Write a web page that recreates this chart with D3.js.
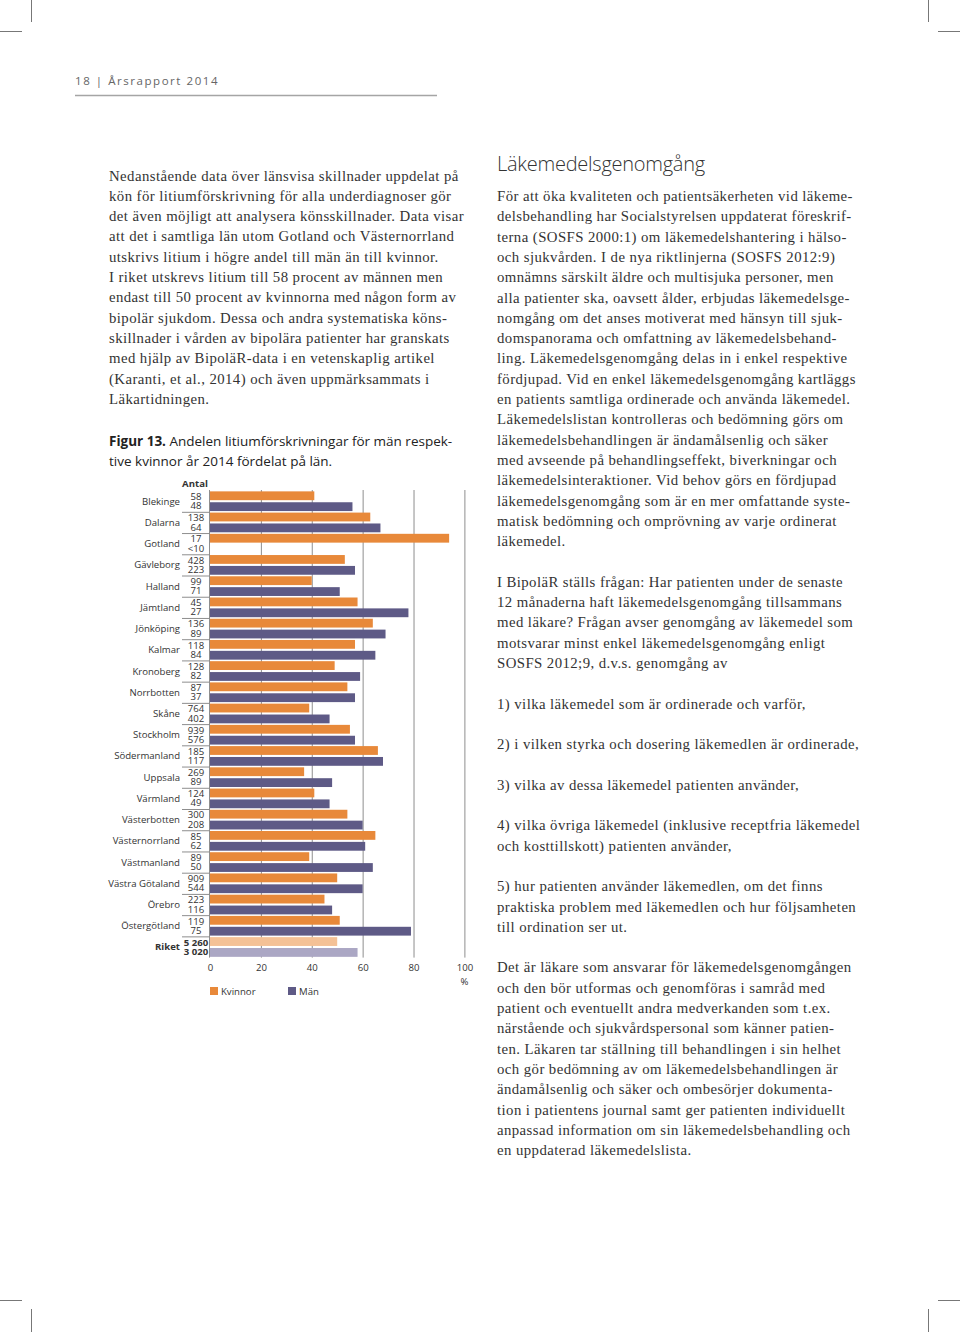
<!DOCTYPE html>
<html><head><meta charset="utf-8">
<script src="https://cdn.jsdelivr.net/npm/d3@7"></script>
<style>
html,body{margin:0;padding:0;background:#fff;}
svg{display:block;}
</style></head>
<body>
<script>
// ---------- DATA ----------
const counties = ["Blekinge","Dalarna","Gotland","Gävleborg","Halland","Jämtland","Jönköping","Kalmar","Kronoberg","Norrbotten","Skåne","Stockholm","Södermanland","Uppsala","Värmland","Västerbotten","Västernorrland","Västmanland","Västra Götaland","Örebro","Östergötland","Riket"];
const kvinnorPct = [41,63,94,53,40,58,64,57,49,54,39,55,66,37,41,54,65,39,50,45,51,50];
const manPct     = [56,67,null,57,51,78,69,65,59,57,47,57,68,48,47,60,61,64,60,48,79,58];
const kvinnorN = ["58","138","17","428","99","45","136","118","128","87","764","939","185","269","124","300","85","89","909","223","119","5 260"];
const manN     = ["48","64","<10","223","71","27","89","84","82","37","402","576","117","89","49","208","62","50","544","116","75","3 020"];
const xTicks = [0,20,40,60,80,100];
const seriesNames = ["Kvinnor","Män"];

const headerText = "18 | Årsrapport 2014";
const leftLines = [
"Nedanstående data över länsvisa skillnader uppdelat på",
"kön för litiumförskrivning för alla underdiagnoser gör",
"det även möjligt att analysera könsskillnader. Data visar",
"att det i samtliga län utom Gotland och Västernorrland",
"utskrivs litium i högre andel till män än till kvinnor.",
"I riket utskrevs litium till 58 procent av männen men",
"endast till 50 procent av kvinnorna med någon form av",
"bipolär sjukdom. Dessa och andra systematiska köns-",
"skillnader i vården av bipolära patienter har granskats",
"med hjälp av BipoläR-data i en vetenskaplig artikel",
"(Karanti, et al., 2014) och även uppmärksammats i",
"Läkartidningen."
];
const captionBold = "Figur 13.";
const captionLines = [" Andelen litiumförskrivningar för män respek-", "tive kvinnor år 2014 fördelat på län."];
const rightHeading = "Läkemedelsgenomgång";
const rightLines = [
"För att öka kvaliteten och patientsäkerheten vid läkeme-",
"delsbehandling har Socialstyrelsen uppdaterat föreskrif-",
"terna (SOSFS 2000:1) om läkemedelshantering i hälso-",
"och sjukvården. I de nya riktlinjerna (SOSFS 2012:9)",
"omnämns särskilt äldre och multisjuka personer, men",
"alla patienter ska, oavsett ålder, erbjudas läkemedelsge-",
"nomgång om det anses motiverat med hänsyn till sjuk-",
"domspanorama och omfattning av läkemedelsbehand-",
"ling. Läkemedelsgenomgång delas in i enkel respektive",
"fördjupad. Vid en enkel läkemedelsgenomgång kartläggs",
"en patients samtliga ordinerade och använda läkemedel.",
"Läkemedelslistan kontrolleras och bedömning görs om",
"läkemedelsbehandlingen är ändamålsenlig och säker",
"med avseende på behandlingseffekt, biverkningar och",
"läkemedelsinteraktioner. Vid behov görs en fördjupad",
"läkemedelsgenomgång som är en mer omfattande syste-",
"matisk bedömning och omprövning av varje ordinerat",
"läkemedel.",
"",
"I BipoläR ställs frågan: Har patienten under de senaste",
"12 månaderna haft läkemedelsgenomgång tillsammans",
"med läkare? Frågan avser genomgång av läkemedel som",
"motsvarar minst enkel läkemedelsgenomgång enligt",
"SOSFS 2012;9, d.v.s. genomgång av",
"",
"1) vilka läkemedel som är ordinerade och varför,",
"",
"2) i vilken styrka och dosering läkemedlen är ordinerade,",
"",
"3) vilka av dessa läkemedel patienten använder,",
"",
"4) vilka övriga läkemedel (inklusive receptfria läkemedel",
"och kosttillskott) patienten använder,",
"",
"5) hur patienten använder läkemedlen, om det finns",
"praktiska problem med läkemedlen och hur följsamheten",
"till ordination ser ut.",
"",
"Det är läkare som ansvarar för läkemedelsgenomgången",
"och den bör utformas och genomföras i samråd med",
"patient och eventuellt andra medverkanden som t.ex.",
"närstående och sjukvårdspersonal som känner patien-",
"ten. Läkaren tar ställning till behandlingen i sin helhet",
"och gör bedömning av om läkemedelsbehandlingen är",
"ändamålsenlig och säker och ombesörjer dokumenta-",
"tion i patientens journal samt ger patienten individuellt",
"anpassad information om sin läkemedelsbehandling och",
"en uppdaterad läkemedelslista."
];

// ---------- STYLE ----------
const W = 960, H = 1332;
const colors = {kv:"#E8893A", man:"#5E5A86", kvLight:"#F4C196", manLight:"#ABA7C4"};
const sans = "'Open Sans', 'Noto Sans', sans-serif";
const serif = "'Liberation Serif', 'DejaVu Serif', serif";
const textCol = "#333";

const svg = d3.select("body").append("svg").attr("width", W).attr("height", H);

// crop marks
const cm = svg.append("g").attr("stroke","#777").attr("stroke-width",1);
[[31.5,0,31.5,22],[0,31.5,22,31.5],[928.5,0,928.5,22],[938,31.5,960,31.5],
 [0,1300.5,22,1300.5],[31.5,1309,31.5,1332],[938,1300.5,960,1300.5],[928.5,1309,928.5,1332]]
 .forEach(d=>cm.append("line").attr("x1",d[0]).attr("y1",d[1]).attr("x2",d[2]).attr("y2",d[3]));

// header
svg.append("text").attr("x",75).attr("y",85).attr("font-family",sans).attr("font-size",11.5)
  .attr("letter-spacing",1.55).attr("fill","#666").text(headerText);
svg.append("line").attr("x1",75).attr("x2",437).attr("y1",95.5).attr("y2",95.5)
  .attr("stroke","#a5a5a5").attr("stroke-width",1.5);

// left body text
const lh = 20.3;
svg.append("g").selectAll("text").data(leftLines).join("text")
  .attr("x",109).attr("y",(d,i)=>180.5+i*lh)
  .attr("font-family",serif).attr("font-size",14.8).attr("letter-spacing",0.42)
  .attr("fill",textCol).text(d=>d);

// caption
const cap = svg.append("text").attr("x",109).attr("y",446).attr("font-family",sans)
  .attr("font-size",13.5).attr("fill","#222");
cap.append("tspan").attr("font-weight","bold").text(captionBold);
cap.append("tspan").text(captionLines[0]);
svg.append("text").attr("x",109).attr("y",466).attr("font-family",sans)
  .attr("font-size",13.5).attr("fill","#222").text(captionLines[1]);

// right heading and text
svg.append("text").attr("x",497).attr("y",171).attr("font-family",sans).attr("font-weight",300)
  .attr("font-size",20).attr("letter-spacing",-0.25).attr("fill",textCol).text(rightHeading);
svg.append("g").selectAll("text").data(rightLines).join("text")
  .attr("x",497).attr("y",(d,i)=>201+i*lh)
  .attr("font-family",serif).attr("font-size",14.8).attr("letter-spacing",0.42)
  .attr("fill",textCol).text(d=>d);

// ---------- CHART ----------
const x = d3.scaleLinear().domain([0,100]).range([210,464.4]);
const y = d3.scaleBand().domain(counties).range([490.6,957.6]).padding(0);
const sub = d3.scaleBand().domain(seriesNames).range([0,y.bandwidth()]).paddingInner(0.19).paddingOuter(0.07);
const chart = svg.append("g");

// gridlines
chart.append("g").selectAll("line").data(xTicks.filter(t=>t>0)).join("line")
  .attr("x1",d=>x(d)+0.5).attr("x2",d=>x(d)+0.5).attr("y1",490).attr("y2",957.6)
  .attr("stroke","#8e8e8e").attr("stroke-width",1);

// bars
const rows = counties.map((c,i)=>({c, i, kv:kvinnorPct[i], man:manPct[i], nk:kvinnorN[i], nm:manN[i], riket:c==="Riket"}));
const rg = chart.append("g").selectAll("g").data(rows).join("g")
  .attr("transform",d=>`translate(0,${y(d.c)})`);
rg.append("rect").attr("x",x(0)).attr("y",sub("Kvinnor")).attr("height",sub.bandwidth())
  .attr("width",d=>x(d.kv)-x(0)).attr("fill",d=>d.riket?colors.kvLight:colors.kv);
rg.filter(d=>d.man!=null).append("rect").attr("x",x(0)).attr("y",sub("Män")).attr("height",sub.bandwidth())
  .attr("width",d=>x(d.man)-x(0)).attr("fill",d=>d.riket?colors.manLight:colors.man);

// count column
const cx = 196;
rg.append("text").attr("x",cx).attr("y",9.4).attr("text-anchor","middle")
  .attr("font-family",sans).attr("font-size",9.6).attr("fill",textCol)
  .attr("font-weight",d=>d.riket?"bold":null).text(d=>d.nk);
rg.append("text").attr("x",cx).attr("y",18.7).attr("text-anchor","middle")
  .attr("font-family",sans).attr("font-size",9.6).attr("fill",textCol)
  .attr("font-weight",d=>d.riket?"bold":null).text(d=>d.nm);
rg.append("text").attr("x",180).attr("y",y.bandwidth()/2+3.5).attr("text-anchor","end")
  .attr("font-family",sans).attr("font-size",9.6).attr("fill",textCol)
  .attr("font-weight",d=>d.riket?"bold":null).text(d=>d.c);
// separators
rg.filter(d=>d.i>0).append("line").attr("x1",182).attr("x2",209.5).attr("y1",0.5).attr("y2",0.5)
  .attr("stroke","#8e8e8e").attr("stroke-width",1);
// axis line at 0
chart.append("line").attr("x1",x(0)-0.5).attr("x2",x(0)-0.5).attr("y1",490).attr("y2",957.6)
  .attr("stroke","#8e8e8e").attr("stroke-width",1);
// header Antal
chart.append("text").attr("x",195).attr("y",486.5).attr("text-anchor","middle")
  .attr("font-family",sans).attr("font-size",9.6).attr("font-weight","bold").attr("fill",textCol).text("Antal");

// x axis
const xAxis = d3.axisBottom(x).tickValues(xTicks).tickSize(0).tickPadding(0);
const ax = chart.append("g").attr("transform","translate(0,971)").call(xAxis);
ax.select(".domain").remove();
ax.selectAll("text").attr("font-family",sans).attr("font-size",9.6).attr("fill",textCol).attr("dy",0);
chart.append("text").attr("x",x(100)).attr("y",985).attr("text-anchor","middle")
  .attr("font-family",sans).attr("font-size",9.6).attr("fill",textCol).text("%");

// legend
const leg = chart.append("g").selectAll("g").data(seriesNames).join("g")
  .attr("transform",(d,i)=>`translate(${i?288:210},987)`);
leg.append("rect").attr("width",8).attr("height",8).attr("fill",(d,i)=>i?colors.man:colors.kv);
leg.append("text").attr("x",11).attr("y",7.5).attr("font-family",sans).attr("font-size",9.6)
  .attr("fill",textCol).text(d=>d);
</script>
</body></html>
